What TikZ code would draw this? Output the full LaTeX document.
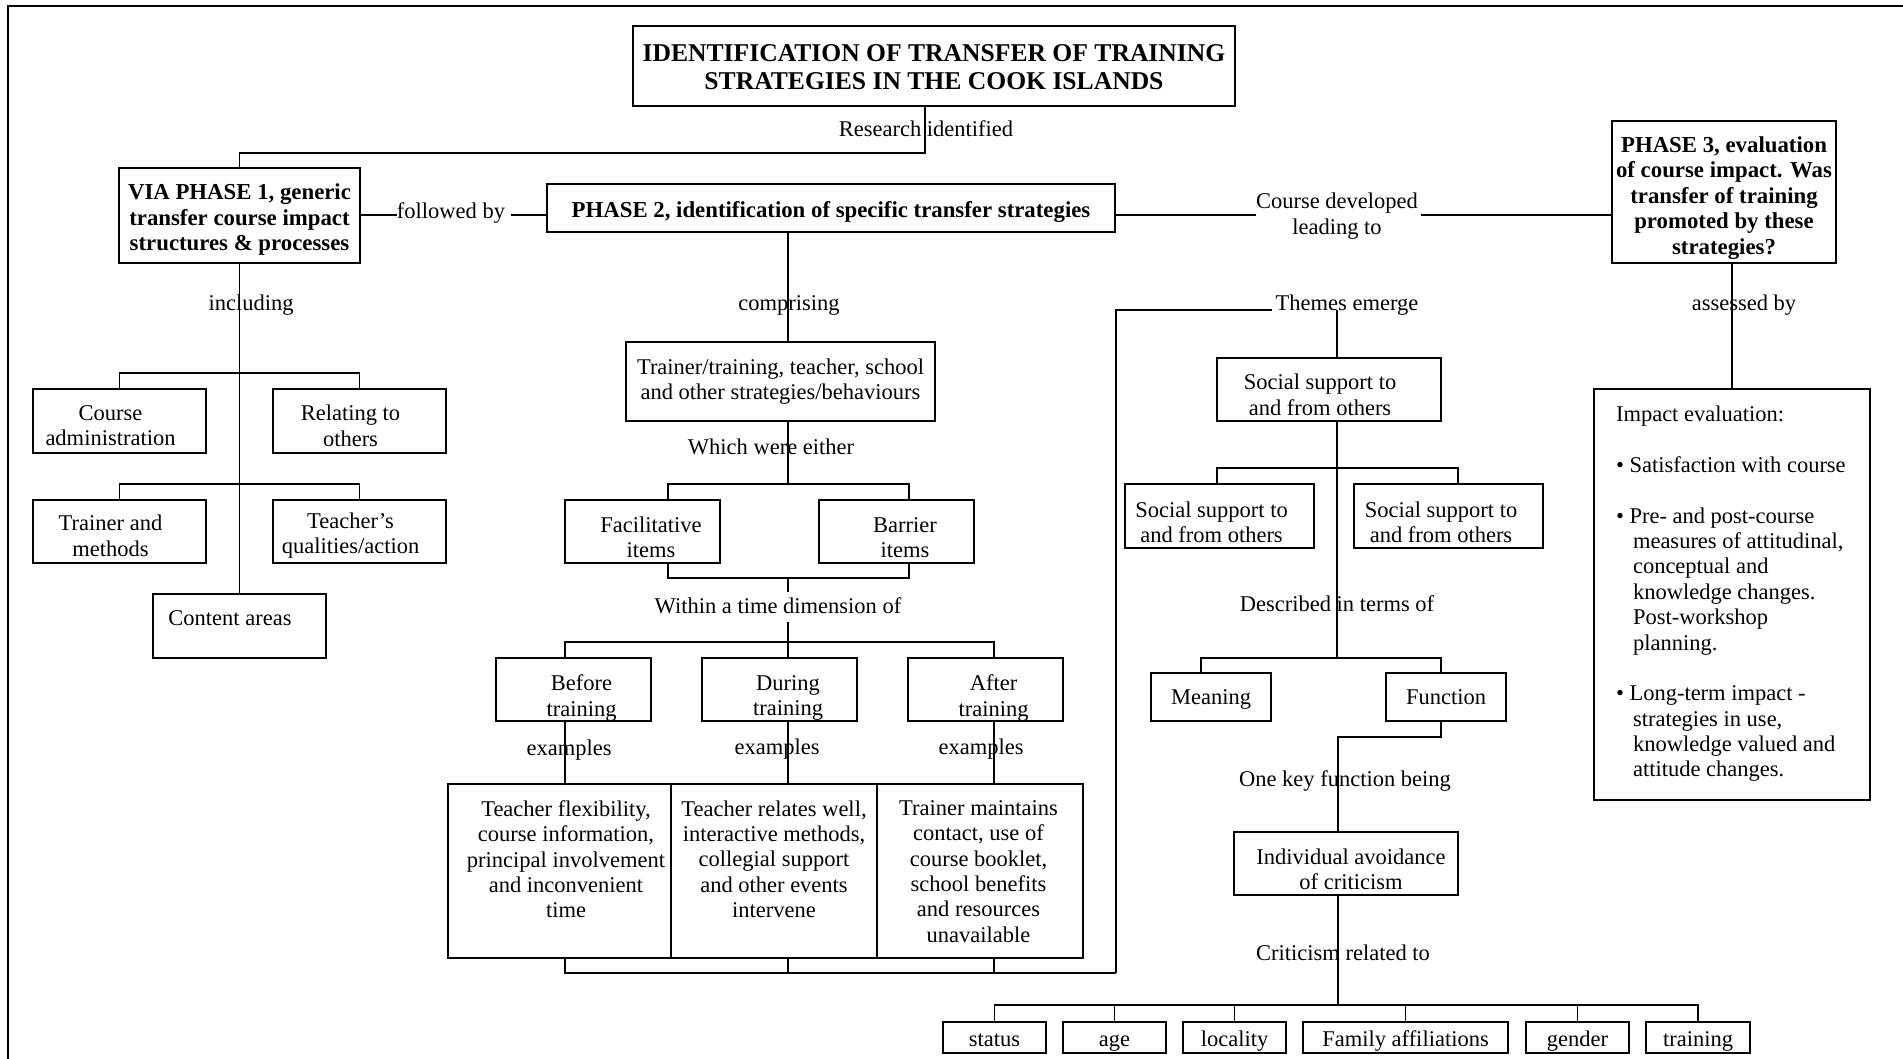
\documentclass[tikz,border=0pt]{standalone}
\usepackage{fontspec}
\setmainfont{Liberation Serif}
\usetikzlibrary{calc}
\begin{document}
\begin{tikzpicture}[x=0.5pt,y=-0.5pt,
  every node/.style={inner sep=0pt, outer sep=0pt},
  every label/.style={inner sep=0pt, outer sep=0pt},
  wire/.style={line width=0.8pt},
  txt/.style={align=center, font=\fontsize{11.25}{12.7}\selectfont},
  htxt/.style={align=center, font=\fontsize{11.4}{12.75}\selectfont\bfseries},
  box/.style={draw, line width=0.8pt, txt},
  one/.style={text height=8pt, text depth=1pt},
  low/.style={text height=10pt, text depth=0.9pt},
  sz/.style 2 args={minimum width=#1*0.5pt, minimum height=#2*0.5pt},
  tbox/.style args={#1 at #2/#3}{label={[txt, xshift=#2pt, yshift=#3pt]center:{#1}}},
  hbox/.style args={#1 at #2/#3}{label={[htxt, xshift=#2pt, yshift=#3pt]center:{#1}}},
]
\useasboundingbox (0,0) rectangle (1903,1059);

% page frame
\draw[line width=1pt] (1903,6) -- (8,6) -- (8,1059);

% ---------- headings ----------
\node[box, sz={602}{80}, label={[htxt, font=\fontsize{12.8}{14}\selectfont\bfseries, yshift=-0.6pt]center:{IDENTIFICATION OF TRANSFER OF TRAINING\\STRATEGIES IN THE COOK ISLANDS}}] (title) at (934,66) {};
\node[box, sz={241}{95}, hbox={VIA PHASE 1, generic\\transfer course impact\\structures \& processes at 0/-2.1}] (p1) at (239.5,215.5) {};
\node[box, low, sz={568}{48}, font=\fontsize{11.4}{12.75}\selectfont\bfseries] (p2) at (831,208)
  {PHASE 2, identification of specific transfer strategies};
\node[box, sz={224}{142}, hbox={PHASE 3, evaluation\\of course impact. Was\\transfer of training\\promoted by these\\strategies? at 0/-3}] (p3) at (1724,192) {};

% ---------- phase 1 branch ----------
\node[box, sz={173}{64}, tbox={Course\\administration at -4.5/-2.4}] (ca) at (119.5,421) {};
\node[box, sz={173}{64}, tbox={Relating to\\others at -4.5/-2.4}] (ro) at (359.5,421) {};
\node[box, sz={173}{63}, tbox={Trainer and\\methods at -4.5/-2.1}] (tm) at (119.5,531.5) {};
\node[box, sz={173}{63}, tbox={Teacher’s\\qualities/action at -4.5/-2.1}] (tq) at (359.5,531.5) {};
\node[box, sz={173}{64}] (cont) at (239.5,626) {};
\node[txt, anchor=base] (contT) at (230,625.5) {Content areas};

% ---------- phase 2 branch ----------
\node[box, sz={309}{79}] (tt) at (780.5,381.5)
  {Trainer/training, teacher, school\\and other strategies/behaviours};
\node[box, sz={155}{63}, tbox={Facilitative\\items at 4.25/-3}] (fac) at (642.5,531.5) {};
\node[box, sz={155}{63}, tbox={Barrier\\items at 4.25/-3}] (bar) at (896.5,531.5) {};
\node[box, sz={155}{63}, tbox={Before\\training at 4/-4.2}] (bef) at (573.5,689.5) {};
\node[box, sz={155}{63}, tbox={During\\training at 4.25/-4.2}] (dur) at (779.5,689.5) {};
\node[box, sz={155}{63}, tbox={After\\training at 4/-4.2}] (aft) at (985.5,689.5) {};
\node[box, sz={223}{174}] (ex1) at (559.5,871) {};
\node[box, sz={206}{174}] (ex2) at (774,871) {};
\node[box, sz={206}{174}] (ex3) at (980,871) {};
\node[txt, anchor=north] (ex1t) at (566,800.5)
  {Teacher flexibility,\\course information,\\principal involvement\\and inconvenient\\time};
\node[txt, anchor=north] (ex2t) at (774,800.5)
  {Teacher relates well,\\interactive methods,\\collegial support\\and other events\\intervene};
\node[txt, anchor=north] (ex3t) at (978.5,800.5)
  {Trainer maintains\\contact, use of\\course booklet,\\school benefits\\and resources\\unavailable};

% ---------- themes branch ----------
\node[box, sz={224}{63}, tbox={Social support to\\and from others at -4.5/-2.7}] (smT) at (1329,389.5) {};
\node[box, sz={189}{64}, tbox={Social support to\\and from others at -4/-3.2}] (sl) at (1219.5,516) {};
\node[box, sz={189}{64}, tbox={Social support to\\and from others at -3.75/-3.2}] (sr) at (1448.5,516) {};
\node[box, one, sz={120}{48}] (mean) at (1211,697) {Meaning};
\node[box, one, sz={120}{48}] (fn) at (1446,697) {Function};
\node[box, sz={224}{63}, tbox={Individual avoidance\\of criticism at 2.5/-3}] (ind) at (1346,863.5) {};
\node[box, low, sz={103}{31}] (st) at (994.5,1037.5) {status};
\node[box, low, sz={103}{31}] (ag) at (1114.5,1037.5) {age};
\node[box, low, sz={103}{31}] (lo) at (1234.5,1037.5) {locality};
\node[box, low, sz={205}{31}] (fa) at (1405.5,1037.5) {Family affiliations};
\node[box, low, sz={103}{31}] (ge) at (1577.5,1037.5) {gender};
\node[box, low, sz={104}{31}] (tr) at (1698,1037.5) {training};

% ---------- phase 3 branch ----------
\node[draw, line width=0.8pt, sz={276}{411}] (imp) at (1732,594.5) {};
\node[txt, align=left, anchor=north west] (impT) at (1616,406)
  {Impact evaluation:\\[12.65pt]
   •\ Satisfaction with course\\[12.65pt]
   •\ Pre- and post-course\\
   \hspace*{8.5pt}measures of attitudinal,\\
   \hspace*{8.5pt}conceptual and\\
   \hspace*{8.5pt}knowledge changes.\\
   \hspace*{8.5pt}Post-workshop\\
   \hspace*{8.5pt}planning.\\[12.65pt]
   •\ Long-term impact -\\
   \hspace*{8.5pt}strategies in use,\\
   \hspace*{8.5pt}knowledge valued and\\
   \hspace*{8.5pt}attitude changes.};

% ---------- connector labels ----------
\node[txt, anchor=base] (lres) at (926,136.5) {Research identified};
\node[txt, anchor=base] (lfol) at (451,219) {followed by};
\node[txt] (lcd) at (1337,216) {Course developed\\leading to};
\node[txt, anchor=base] (linc) at (251,310.5) {including};
\node[txt, anchor=base] (lcomp) at (789,310.5) {comprising};
\node[txt, anchor=base] (lthem) at (1347,310.5) {Themes emerge};
\node[txt, anchor=base] (lass) at (1744,310.5) {assessed by};
\node[txt, anchor=base] (lwhich) at (771,454.5) {Which were either};
\node[txt, anchor=base] (lwithin) at (778,613.5) {Within a time dimension of};
\node[txt, anchor=base] (lexa) at (569,755.5) {examples};
\node[txt, anchor=base] (lexb) at (777,754) {examples};
\node[txt, anchor=base] (lexc) at (981,754) {examples};
\node[txt, anchor=base] (ldesc) at (1337,611.5) {Described in terms of};
\node[txt, anchor=base] (lkey) at (1345,786.5) {One key function being};
\node[txt, anchor=base] (lcrit) at (1343,960.5) {Criticism related to};

% ---------- junction points ----------
\coordinate (rj) at (925,153);
\coordinate (ya) at (0,215);
\coordinate (sx) at (788,0);
\coordinate (j1) at (788,484);
\coordinate (j1a) at (668,484);
\coordinate (j1b) at (909,484);
\coordinate (j2) at (788,578);
\coordinate (j2a) at (668,578);
\coordinate (j2b) at (909,578);
\coordinate (j3) at (788,642);
\coordinate (xa) at (565,642);
\coordinate (xc) at (994,642);
\coordinate (j4) at (1116,973);
\coordinate (j5) at (1116,310);
\coordinate (xs) at (1337,310);
\coordinate (j6) at (1337,658);
\coordinate (j6a) at (1201,658);
\coordinate (j6b) at (1441,658);
\coordinate (j7a) at (1217,468);
\coordinate (j7b) at (1458,468);
\coordinate (j8) at (1441,737);
\coordinate (j8b) at (1338,737);
\coordinate (j9) at (1338,1005);

% ---------- connectors ----------
\draw[wire] (title.south -| rj) -- (rj) -| (p1.north);
\draw[wire] (p1.east |- ya) -- (lfol.west |- ya);
\draw[wire] ([xshift=3pt]lfol.east |- ya) -- (p2.west |- ya);
\draw[wire] (p2.east |- ya) -- (lcd.west |- ya);
\draw[wire] ([xshift=1.5pt]lcd.east |- ya) -- (p3.west |- ya);

% phase 1 items
\draw[wire] (p1.south) -- (cont.north);
\draw[wire] (ca.north) -- ++(0,-16) -| (ro.north);
\draw[wire] (tm.north) -- ++(0,-16) -| (tq.north);

% phase 2 chain
\draw[wire] (p2.south -| sx) -- (tt.north -| sx);
\draw[wire] (tt.south -| sx) -- (j1);
\draw[wire] (fac.north -| j1a) -- (j1a) -- (j1b) -- (bar.north -| j1b);
\draw[wire] (fac.south -| j2a) -- (j2a) -- (j2b) -- (bar.south -| j2b);
\draw[wire] (j2) -- ([yshift=3pt]lwithin.north -| j2);
\draw[wire] ([yshift=-4pt]lwithin.south -| j3) -- (j3);
\draw[wire] (bef.north -| xa) -- (xa) -- (xc) -- (aft.north -| xc);
\draw[wire] (j3) -- (dur.north -| j3);
\draw[wire] (bef.south -| xa) -- (ex1.north -| xa);
\draw[wire] (dur.south -| j3) -- (ex2.north -| j3);
\draw[wire] (aft.south -| xc) -- (ex3.north -| xc);
\draw[wire] (ex1.south -| xa) -- (xa |- j4) -- (j4);
\draw[wire] (ex2.south -| j3) -- (j3 |- j4);
\draw[wire] (ex3.south -| xc) -- (xc |- j4);
\draw[wire] (j4) -- (j5) -- ([xshift=-2pt]lthem.west |- j5);

% themes chain
\draw[wire] (xs) -- (smT.north -| xs);
\draw[wire] (smT.south -| xs) -- (j6);
\draw[wire] (sl.north -| j7a) -- (j7a) -- (j7b) -- (sr.north -| j7b);
\draw[wire] (mean.north -| j6a) -- (j6a) -- (j6b) -- (fn.north -| j6b);
\draw[wire] (fn.south -| j8) -- (j8) -- (j8b) -- (ind.north -| j8b);
\draw[wire] (ind.south -| j9) -- (j9);
\draw[wire] (st.north) -- (st.north |- j9) -- (tr.north |- j9) -- (tr.north);
\foreach \b in {ag,lo,fa,ge} \draw[wire] (\b.north) -- (\b.north |- j9);

% phase 3
\draw[wire] (p3.south -| imp.north) -- (imp.north);
\end{tikzpicture}
\end{document}
